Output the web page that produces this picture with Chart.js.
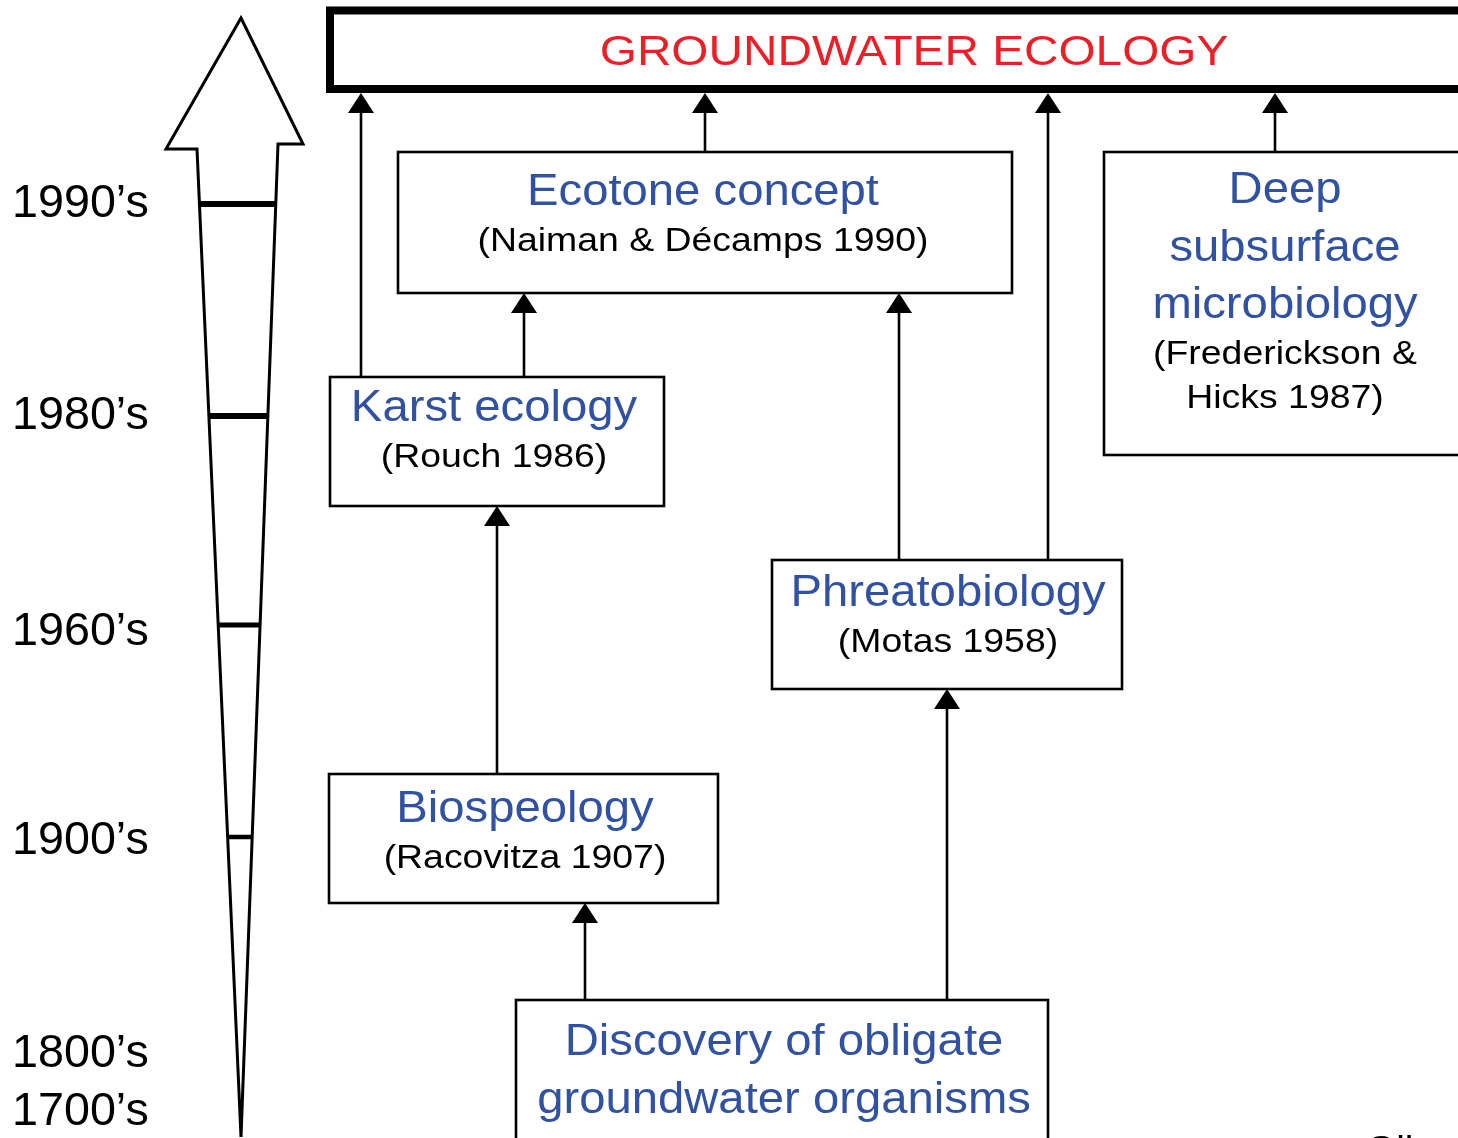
<!DOCTYPE html>
<html>
<head>
<meta charset="utf-8">
<title>Groundwater ecology</title>
<script src="https://cdn.jsdelivr.net/npm/chart.js@4.4.1/dist/chart.umd.min.js"></script>
<style>
    html, body { margin: 0; padding: 0; background: #ffffff; }
    #wrap { position: relative; width: 1458px; height: 1138px; overflow: hidden; }
</style>
</head>
<body>
<div id="wrap"><canvas id="diagram" width="1458" height="1138"></canvas></div>
<script>
// --- Data ---
const eraLabels = ['1990\u2019s', '1980\u2019s', '1960\u2019s', '1900\u2019s', '1800\u2019s', '1700\u2019s'];
const eraLabelPos = [200, 412, 628, 837, 1050, 1108];
const eraTickPos = [204, 416, 625, 837];
const eraTickWidth = [6, 6, 5, 4.5];

const mainTitle = 'GROUNDWATER ECOLOGY';
const boxTitles = [
    ['Ecotone concept'],
    ['Deep', 'subsurface', 'microbiology'],
    ['Karst ecology'],
    ['Phreatobiology'],
    ['Biospeology'],
    ['Discovery of obligate', 'groundwater organisms']
];
const boxRefs = [
    ['(Naiman & D\u00e9camps 1990)'],
    ['(Frederickson &', 'Hicks 1987)'],
    ['(Rouch 1986)'],
    ['(Motas 1958)'],
    ['(Racovitza 1907)'],
    []
];

// links: [x, from, to] along the vertical axis
const linkX = [361, 705, 1048, 1275, 524, 899, 497, 585, 947];
const linkFrom = [377, 152, 560, 152, 377, 560, 774, 1000, 1000];
const linkTo = [93, 93, 93, 93, 293, 293, 506, 903, 689];

// --- Layout ---
const BLUE = '#3152a3';
const RED = '#ec1f27';
const FONT = '"Liberation Sans", Arial, Helvetica, sans-serif';

// box frames: left, top, right, bottom, text centre x, first baseline, line step
const boxFrames = [
    { l: 398, t: 152, r: 1012, b: 293, cx: 703, base: 205, step: 46 },
    { l: 1104, t: 152, r: 1470, b: 455, cx: 1285, base: 203, step: 57.5 },
    { l: 330, t: 377, r: 664, b: 506, cx: 494, base: 421, step: 46 },
    { l: 772, t: 560, r: 1122, b: 689, cx: 948, base: 606, step: 46 },
    { l: 329, t: 774, r: 718, b: 903, cx: 525, base: 822, step: 46 },
    { l: 516, t: 1000, r: 1048, b: 1160, cx: 784, base: 1055, step: 57.5 }
];

// timeline arrow outline
const arrowX = [241, 303, 278, 241, 197, 166];
const arrowY = [18, 144, 144, 1137, 149, 149];

const linkDatasets = linkX.map((x, i) => ({
    data: [{ x: x, y: linkFrom[i] }, { x: x, y: linkTo[i] + 14 }],
    showLine: true,
    borderColor: '#000000',
    borderWidth: 2.6,
    pointRadius: 0,
    fill: false
}));

const diagramPlugin = {
    id: 'diagram',
    beforeDatasetsDraw(chart) {
        const ctx = chart.ctx;
        const xs = chart.scales.x, ys = chart.scales.y;
        const px = v => xs.getPixelForValue(v);
        const py = v => ys.getPixelForValue(v);

        ctx.save();
        ctx.fillStyle = '#ffffff';
        ctx.fillRect(0, 0, chart.width, chart.height);

        // --- Timeline arrow ---
        ctx.beginPath();
        arrowX.forEach((x, i) => i === 0 ? ctx.moveTo(px(x), py(arrowY[i])) : ctx.lineTo(px(x), py(arrowY[i])));
        ctx.closePath();
        ctx.lineWidth = 3;
        ctx.lineJoin = 'miter';
        ctx.strokeStyle = '#000000';
        ctx.stroke();

        // era ticks span the shaft
        eraTickPos.forEach((y, i) => {
            const left = 197 + (241 - 197) * (y - 149) / (1137 - 149);
            const right = 278 - (278 - 241) * (y - 144) / (1137 - 144);
            ctx.beginPath();
            ctx.moveTo(px(left), py(y));
            ctx.lineTo(px(right), py(y));
            ctx.lineWidth = eraTickWidth[i];
            ctx.stroke();
        });

        // era labels
        eraLabels.forEach((s, i) => {
            drawText(ctx, s, px(12), py(eraLabelPos[i] + 17), 46, '#000000', 1.015, 'left');
        });

        // --- Title box ---
        ctx.lineWidth = 8;
        ctx.strokeRect(px(330), py(10.5), px(1480) - px(330), py(89) - py(10.5));
        drawText(ctx, mainTitle, px(914), py(65), 43, RED, 1.11, 'center');

        // --- Boxes ---
        boxFrames.forEach(f => {
            ctx.fillStyle = '#ffffff';
            ctx.fillRect(px(f.l), py(f.t), px(f.r) - px(f.l), py(f.b) - py(f.t));
            ctx.lineWidth = 2.6;
            ctx.strokeStyle = '#000000';
            ctx.strokeRect(px(f.l), py(f.t), px(f.r) - px(f.l), py(f.b) - py(f.t));
        });
        ctx.restore();
    },
    afterDatasetsDraw(chart) {
        const ctx = chart.ctx;
        const xs = chart.scales.x, ys = chart.scales.y;
        const px = v => xs.getPixelForValue(v);
        const py = v => ys.getPixelForValue(v);

        ctx.save();
        // arrow heads
        ctx.fillStyle = '#000000';
        linkX.forEach((x, i) => {
            const tip = linkTo[i];
            ctx.beginPath();
            ctx.moveTo(px(x), py(tip));
            ctx.lineTo(px(x + 13), py(tip + 20));
            ctx.lineTo(px(x - 13), py(tip + 20));
            ctx.closePath();
            ctx.fill();
        });

        // box texts
        boxFrames.forEach((f, i) => {
            let y = f.base;
            boxTitles[i].forEach((s, k) => {
                if (k > 0) y += f.step;
                drawText(ctx, s, px(f.cx), py(y), 45, BLUE, 1.05, 'center');
            });
            boxRefs[i].forEach((s, k) => {
                y += (k === 0 ? 46 : 44);
                drawText(ctx, s, px(f.cx), py(y), 34, '#000000', 1.1, 'center');
            });
        });

        // clipped caption at the bottom edge
        drawText(ctx, 'Gibert', px(1366), py(1162), 37, '#000000', 1.05, 'left');
        ctx.restore();
    }
};

function drawText(ctx, str, x, y, size, color, sx, align) {
    ctx.save();
    ctx.translate(x, y);
    ctx.scale(sx, 1);
    ctx.font = size + 'px ' + FONT;
    ctx.fillStyle = color;
    ctx.textAlign = align;
    ctx.textBaseline = 'alphabetic';
    ctx.fillText(str, 0, 0);
    ctx.restore();
}

// --- Chart ---
new Chart(document.getElementById('diagram'), {
    type: 'scatter',
    data: { datasets: linkDatasets },
    options: {
        responsive: false,
        animation: false,
        layout: { padding: 0 },
        plugins: { legend: { display: false }, tooltip: { enabled: false } },
        scales: {
            x: { type: 'linear', min: 0, max: 1458, display: false },
            y: { type: 'linear', min: 0, max: 1138, reverse: true, display: false }
        }
    },
    plugins: [diagramPlugin]
});
</script>
</body>
</html>
